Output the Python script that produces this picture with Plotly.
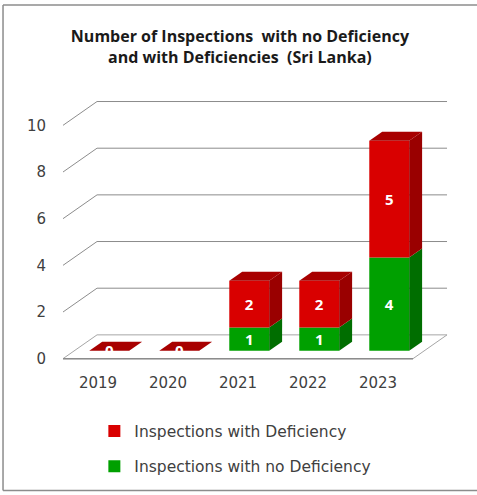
import plotly.graph_objects as go

# ---------------- data ----------------
years = ["2019", "2020", "2021", "2022", "2023"]
no_deficiency = [0, 0, 1, 1, 4]
with_deficiency = [0, 0, 2, 2, 5]
y_ticks = [0, 2, 4, 6, 8, 10]
title_text = "Number of Inspections  with no Deficiency<br>and with Deficiencies  (Sri Lanka)"
name_def = "Inspections with Deficiency"
name_nodef = "Inspections with no Deficiency"

# ---------------- styling / pseudo-3D geometry ----------------
FONT = "DejaVu Sans"
TFONT = "Open Sans"
DX, DY = 0.486, 1.02          # full depth offset in axis units
D0, D1 = 0.33, 0.71           # bar depth (front, back) as fraction of full depth
W = 0.57                      # bar width
XL, XR = -0.5, 4.5            # floor extent (front)
RED_F, RED_S, RED_T = "#D90000", "#9A0000", "#A80000"
GRN_F, GRN_S, GRN_T = "#00A000", "#006E00", "#008000"
GRID = "#8C8C8C"

idx = list(range(len(years)))
fig = go.Figure()

ox, oy = D0 * DX, D0 * DY
ddx, ddy = (D1 - D0) * DX, (D1 - D0) * DY
bar_txt = dict(color="white", size=15, family=TFONT, weight="bold")

# front faces
fig.add_trace(go.Bar(
    x=[i + ox for i in idx], y=no_deficiency, base=[oy] * len(idx), width=W,
    marker=dict(color=GRN_F, line=dict(width=0)), name=name_nodef, legendrank=2,
    legendgroup="g",
    text=[str(v) if v else "" for v in no_deficiency],
    textposition="inside", insidetextanchor="middle", textangle=0,
    constraintext="none", textfont=bar_txt, hoverinfo="skip"))
fig.add_trace(go.Bar(
    x=[i + ox for i in idx], y=with_deficiency,
    base=[oy + g for g in no_deficiency], width=W,
    marker=dict(color=RED_F, line=dict(width=0)), name=name_def, legendrank=1,
    legendgroup="r",
    text=[str(v) if v else "" for v in with_deficiency],
    textposition="inside", insidetextanchor="middle", textangle=0,
    constraintext="none", textfont=bar_txt, hoverinfo="skip"))


def poly(xs, ys, color):
    fig.add_trace(go.Scatter(x=xs + [xs[0]], y=ys + [ys[0]], mode="lines",
                             fill="toself", fillcolor=color,
                             line=dict(width=0, color=color),
                             showlegend=False, hoverinfo="skip"))


for i in idx:
    xr = i + ox + W / 2
    xl = i + ox - W / 2
    segs = [(0, no_deficiency[i], GRN_S),
            (no_deficiency[i], no_deficiency[i] + with_deficiency[i], RED_S)]
    for b, t, side in segs:
        if t > b:
            poly([xr, xr + ddx, xr + ddx, xr],
                 [b + oy, b + oy + ddy, t + oy + ddy, t + oy], side)
    total = no_deficiency[i] + with_deficiency[i]
    top_col = RED_T if with_deficiency[i] > 0 or total == 0 else GRN_T
    poly([xl, xr, xr + ddx, xl + ddx],
         [total + oy, total + oy, total + oy + ddy, total + oy + ddy], top_col)
    if total == 0:
        fig.add_trace(go.Scatter(x=[i + ox], y=[oy - 0.05], mode="text", text=["0"],
                                 textfont=bar_txt, showlegend=False, hoverinfo="skip"))

# gridlines (left wall diagonals + back wall) and floor
shapes = []
for v in y_ticks:
    if v == 0:
        continue
    shapes.append(dict(type="line", xref="x", yref="y", x0=XL, y0=v, x1=XL + DX, y1=v + DY,
                       line=dict(color=GRID, width=1), layer="below"))
    shapes.append(dict(type="line", xref="x", yref="y", x0=XL + DX, y0=v + DY,
                       x1=XR + DX, y1=v + DY, line=dict(color=GRID, width=1), layer="below"))
shapes.append(dict(type="path", xref="x", yref="y",
                   path=f"M {XL},0 L {XR},0 L {XR + DX},{DY} L {XL + DX},{DY} Z",
                   fillcolor="white", line=dict(color="#A6A6A6", width=1), layer="below"))
shapes.append(dict(type="line", xref="x", yref="y", x0=XL, y0=0, x1=XR, y1=0,
                   line=dict(color="#8C8C8C", width=1.5), layer="below"))
# chart border
shapes.append(dict(type="line", xref="paper", yref="paper", x0=-0.153, y0=1.330, x1=1.2, y1=1.330,
                   line=dict(color="#8C8C8C", width=1.5)))
shapes.append(dict(type="line", xref="paper", yref="paper", x0=-0.153, y0=1.330, x1=-0.153, y1=-0.449,
                   line=dict(color="#8C8C8C", width=1.5)))
shapes.append(dict(type="line", xref="paper", yref="paper", x0=-0.153, y0=-0.449, x1=1.2, y1=-0.449,
                   line=dict(color="#8C8C8C", width=1.5)))

fig.update_layout(
    width=477, height=495,
    margin=dict(l=63, r=22, t=95, b=125),
    paper_bgcolor="white", plot_bgcolor="white",
    barmode="overlay",
    shapes=shapes,
    title=dict(text=title_text, x=0.503, xref="container", xanchor="center",
               y=0.915, yanchor="top",
               font=dict(family=TFONT, size=16, color="#1A1A1A", weight="bold")),
    xaxis=dict(range=[-0.5, 5.1], tickvals=idx, ticktext=years, showgrid=False,
               zeroline=False, showline=False, ticks="", ticklabelstandoff=4,
               tickfont=dict(family=FONT, size=15, color="#404040")),
    yaxis=dict(range=[-0.4, 11.3], tickvals=y_ticks, showgrid=False, zeroline=False,
               showline=False, ticks="", ticklabelstandoff=16,
               tickfont=dict(family=FONT, size=15, color="#404040")),
    legend=dict(x=0.08, y=-0.17, xanchor="left", yanchor="top",
                traceorder="grouped", tracegroupgap=12,
                font=dict(family=FONT, size=15.5, color="#404040"),
                bgcolor="rgba(0,0,0,0)"),
    showlegend=True,
)

fig.write_html("out.html", config={"displayModeBar": False},
               post_script="document.body.style.margin='0px';")
